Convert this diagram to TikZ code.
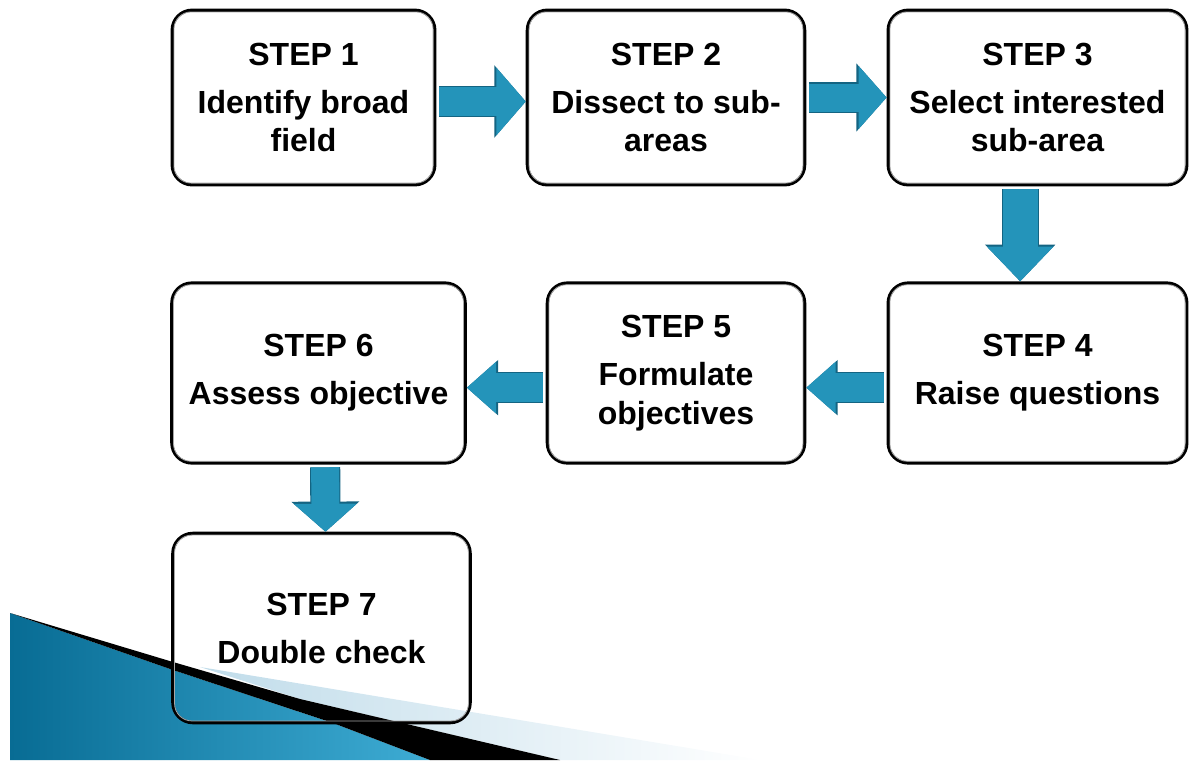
\documentclass[tikz,border=0pt]{standalone}
\usepackage{fontspec}
\setmainfont{Liberation Sans}
\usetikzlibrary{arrows.meta}

\definecolor{arrowfill}{RGB}{36,148,186}
\definecolor{arrowedge}{RGB}{20,100,130}
\definecolor{swoopdark}{RGB}{8,108,148}
\definecolor{swooplight}{RGB}{62,172,212}
\definecolor{swoopband}{RGB}{192,220,234}

\newcommand\stepfont{\bfseries\fontsize{24}{29}\selectfont}

\begin{document}
\begin{tikzpicture}[x=0.75pt, y=-0.75pt]

\tikzset{
	stepbox/.style={draw=black, line width=2.4pt, rounded corners=15pt, align=center, font=\stepfont, inner sep=0pt},
	innerline/.style={draw=gray!70, line width=0.6pt, rounded corners=13pt},
	flowarrow/.style 2 args={line width=#1, draw=arrowfill, -{Triangle[length=0pt 1, width=0pt #2]},
      preaction={draw=arrowedge, line width=#1+1.6pt, -{Triangle[length=0pt 1, width=0pt #2]}}}
}

\useasboundingbox (0,0) rectangle (1191,760);

% swoosh in the corner
\shade[left color=swoopband, right color=white] (200,667) -- (761,760) -- (560,760) -- (300,699) -- cycle;
\shade[left color=swoopdark, right color=swooplight] (10,613) -- (173,670) -- (333,723) -- (430,760) -- (10,760) -- cycle;
\fill[black] (10,613) -- (173,662) -- (300,699) -- (560,760) -- (430,760) -- (333,723) -- (173,670) -- cycle;

% steps
\node[stepbox, minimum width=197pt, minimum height=131pt] (b1) at (303.5,97.5) {STEP 1\\[7pt]Identify broad\\field};
\node[stepbox, minimum width=208pt, minimum height=131pt] (b2) at (666,97.5) {STEP 2\\[7pt]Dissect to sub-\\areas};
\node[stepbox, minimum width=224pt, minimum height=131pt] (b3) at (1037.5,97.5) {STEP 3\\[7pt]Select interested\\sub-area};
\node[stepbox, minimum width=224pt, minimum height=135pt] (b4) at (1037.5,373) {STEP 4\\[7pt]Raise questions};
\node[stepbox, minimum width=193pt, minimum height=135pt] (b5) at (676,373) {STEP 5\\[7pt]Formulate\\objectives};
\node[stepbox, minimum width=220pt, minimum height=135pt] (b6) at (318.5,373) {STEP 6\\[7pt]Assess objective};
\node[stepbox, minimum width=223pt, minimum height=142pt] (b7) at (321.5,628) {STEP 7\\[7pt]Double check};

\foreach \n in {b1,b2,b3,b4,b5,b6,b7}
  \draw[innerline] ([shift={(2.5pt,-2.5pt)}]\n.north west) rectangle ([shift={(-2.5pt,2.5pt)}]\n.south east);

% arrows
\draw[flowarrow={22pt}{2.25}] ([xshift=2pt, yshift=-3pt]b1.east) -- ([yshift=-3pt]b2.west);
\draw[flowarrow={21pt}{2.2}] ([xshift=2pt]b2.east) -- (b3.west);
\draw[flowarrow={26pt}{1.85}] ([xshift=-13pt, yshift=-2pt]b3.south) -- ([xshift=-13pt]b4.north);
\draw[flowarrow={22pt}{1.7}] ([xshift=-2pt, yshift=-11pt]b4.west) -- ([yshift=-11pt]b5.east);
\draw[flowarrow={22pt}{1.7}] ([xshift=-2pt, yshift=-11pt]b5.west) -- ([yshift=-11pt]b6.east);
\draw[flowarrow={21pt}{2.2}] ([xshift=5pt, yshift=-2pt]b6.south) -- ([xshift=3pt]b7.north);

\end{tikzpicture}
\end{document}
